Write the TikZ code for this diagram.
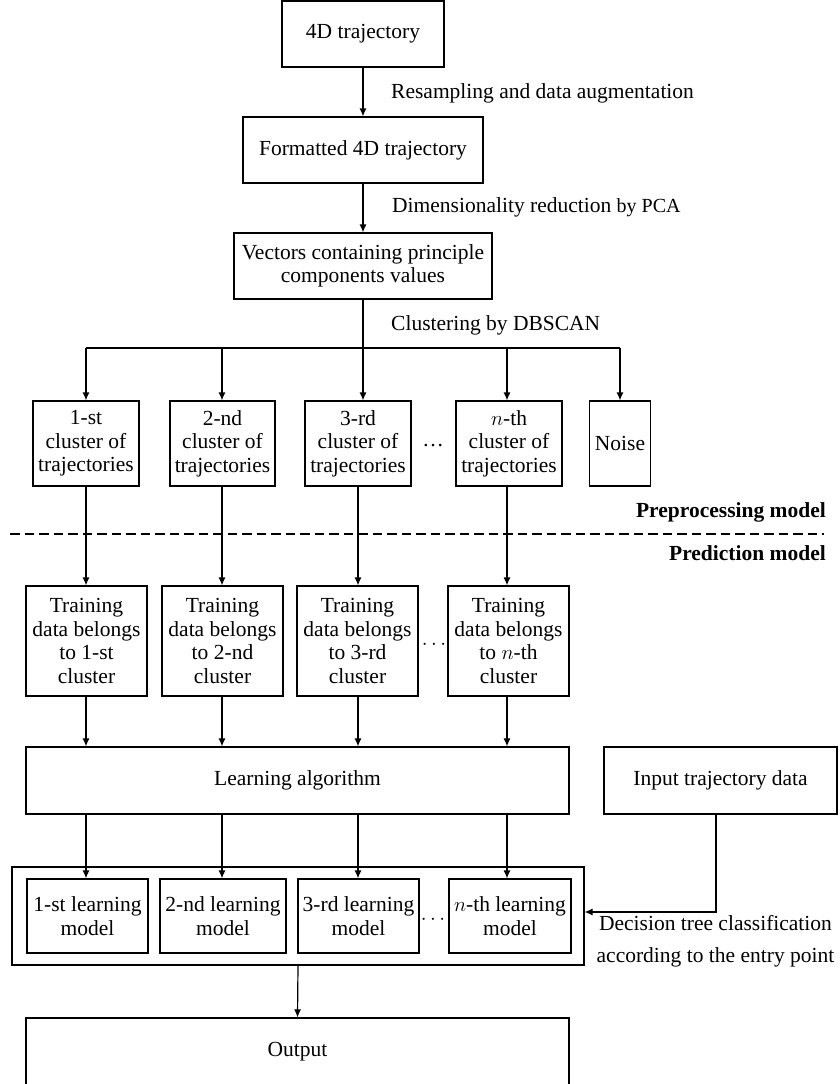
\documentclass[tikz,border=0pt]{standalone}
\usepackage{fontspec}
\setmainfont{Liberation Serif}
\usetikzlibrary{arrows.meta}
\begin{document}
\begin{tikzpicture}[x=1pt,y=-1pt,
  every node/.style={font=\fontsize{21.5}{23.5}\selectfont},
  box/.style={draw, line width=1.2pt, align=center, inner sep=0pt},
  conn/.style={line width=1.2pt},
  arr/.style={conn, -{Latex[length=8pt,width=7pt]}},
  lbl/.style={anchor=west, inner sep=0pt},
  dots/.style={inner sep=0pt},
  sect/.style={anchor=east, inner sep=0pt, font=\fontsize{21.5}{23.5}\selectfont\bfseries}]
\useasboundingbox (0,0) rectangle (839,1084);
% column guides
\coordinate (colA) at (86,0);
\coordinate (colB) at (222,0);
\coordinate (colC) at (358,0);
\coordinate (colD) at (507,0);
\coordinate (colE) at (363,0);
\coordinate (colI) at (716,0);
% top chain
\node[box, minimum width=162, minimum height=66] (traj) at (363,34) {4D trajectory};
\node[box, minimum width=240, minimum height=66] (fmt) at (363,150) {Formatted 4D trajectory};
\node[box, minimum width=258, minimum height=66] (vec) at (363,266) {Vectors containing principle\\components values};
\draw[arr] (traj) -- (fmt);
\draw[arr] (fmt) -- (vec);
\node[lbl] (l1) at (391,93) {Resampling and data augmentation};
\node[lbl] (l2) at (392,207) {Dimensionality reduction {\fontsize{20}{22}\selectfont by PCA}};
\node[lbl] (l3) at (391,325) {Clustering by DBSCAN};
% clusters
\node[box, minimum width=106, minimum height=85] (c1) at (86,443.5) {1-st\\cluster of\\trajectories};
\node[box, minimum width=105, minimum height=85] (c2) at (222.5,443.5) {2-nd\\cluster of\\trajectories};
\node[box, minimum width=106, minimum height=85] (c3) at (358,443.5) {3-rd\\cluster of\\trajectories};
\node[box, minimum width=106, minimum height=85] (cn) at (509,443.5) {$n$-th\\cluster of\\trajectories};
\node[box, minimum width=61, minimum height=85] (noise) at (620,443.5) {Noise};
\node[dots] (d1) at (433,446) {\ldots};
\coordinate (br) at (363,348);
\coordinate (brL) at (86,348);
\coordinate (brR) at (620,348);
\draw[conn] (vec.south) -- (br);
\draw[conn] (brL) -- (brR);
\draw[arr] (brL) -- (colA |- c1.north);
\draw[arr] (colB |- br) -- (colB |- c2.north);
\draw[arr] (br) -- (colE |- c3.north);
\draw[arr] (colD |- br) -- (colD |- cn.north);
\draw[arr] (brR) -- (noise.north);
% separator
\coordinate (sepL) at (10,534);
\coordinate (sepR) at (824,534);
\draw[line width=1.6pt, dash pattern=on 9.5pt off 5pt] (sepL) -- (sepR);
\node[sect] (pre) at (826,512) {Preprocessing model};
\node[sect] (pred) at (826,553) {Prediction model};
% training
\node[box, minimum width=121, minimum height=110] (t1) at (86.5,641) {Training\\data belongs\\to 1-st\\cluster};
\node[box, minimum width=121, minimum height=110] (t2) at (222.5,641) {Training\\data belongs\\to 2-nd\\cluster};
\node[box, minimum width=121, minimum height=110] (t3) at (357.5,641) {Training\\data belongs\\to 3-rd\\cluster};
\node[box, minimum width=121, minimum height=110] (tn) at (508.5,641) {Training\\data belongs\\to $n$-th\\cluster};
\node[dots] (d2) at (434,645) {$\cdots$};
\draw[arr] (colA |- c1.south) -- (colA |- t1.north);
\draw[arr] (colB |- c2.south) -- (colB |- t2.north);
\draw[arr] (colC |- c3.south) -- (colC |- t3.north);
\draw[arr] (colD |- cn.south) -- (colD |- tn.north);
% learning
\node[box, minimum width=543, minimum height=67] (learn) at (297.5,780.5) {Learning algorithm};
\node[box, minimum width=233, minimum height=67] (input) at (720.5,780.5) {Input trajectory data};
\draw[arr] (colA |- t1.south) -- (colA |- learn.north);
\draw[arr] (colB |- t2.south) -- (colB |- learn.north);
\draw[arr] (colC |- t3.south) -- (colC |- learn.north);
\draw[arr] (colD |- tn.south) -- (colD |- learn.north);
% models
\node[box, minimum width=572, minimum height=98] (outer) at (298,916) {};
\node[box, minimum width=121, minimum height=74] (m1) at (87.5,916) {1-st learning\\model};
\node[box, minimum width=126, minimum height=74] (m2) at (223,916) {2-nd learning\\model};
\node[box, minimum width=121, minimum height=74] (m3) at (358.5,916) {3-rd learning\\model};
\node[box, minimum width=122, minimum height=74] (mn) at (510,916) {$n$-th learning\\model};
\node[dots] (d3) at (433,920) {$\cdots$};
\draw[arr] (colA |- learn.south) -- (colA |- m1.north);
\draw[arr] (colB |- learn.south) -- (colB |- m2.north);
\draw[arr] (colC |- learn.south) -- (colC |- m3.north);
\draw[arr] (colD |- learn.south) -- (colD |- mn.north);
\coordinate (turn) at (716,912);
\draw[arr] (colI |- input.south) -- (turn) -- (outer.east |- turn);
\node[align=center, inner sep=0pt] (dec) at (715.5,941) {Decision tree classification\\[8pt]according to the entry point};
% output
\node[box, minimum width=543, minimum height=68] (out) at (297.5,1052) {Output};
\draw[arr] (outer.south) -- (out.north);
\end{tikzpicture}
\end{document}
